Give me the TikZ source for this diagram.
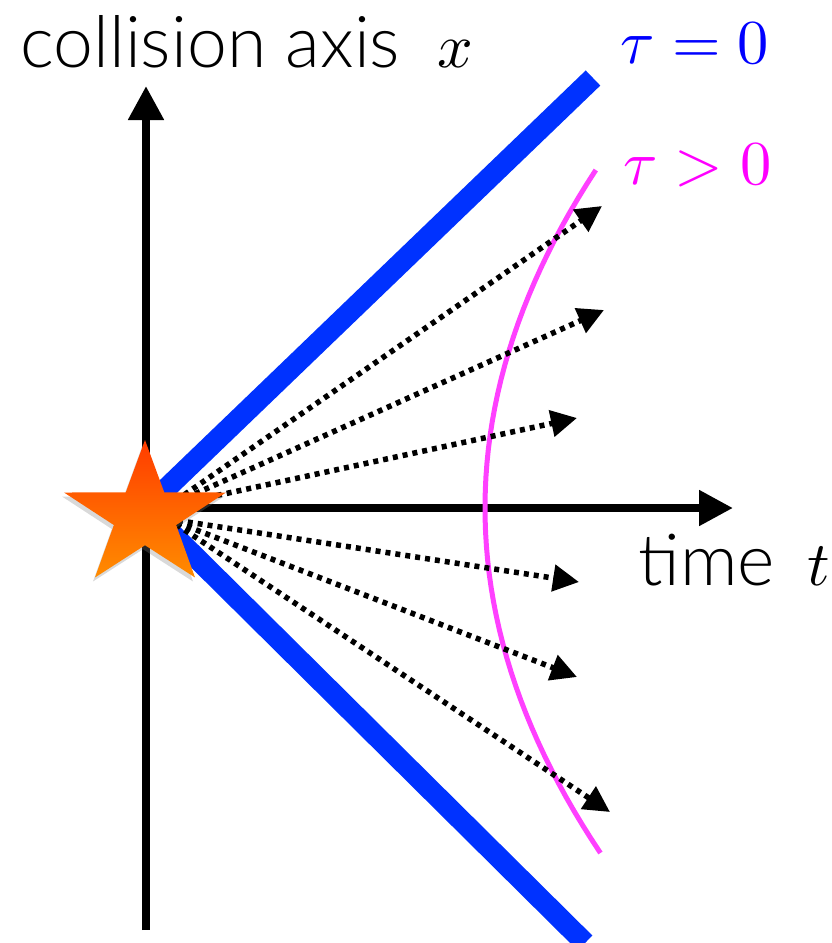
\documentclass[tikz,border=0pt]{standalone}
\usepackage{fontspec}
\setmainfont{Lato Light}
\usetikzlibrary{arrows.meta,shapes.geometric,shadows}
\definecolor{beamblue}{RGB}{0,50,255}
\definecolor{hypermag}{RGB}{255,64,255}
\definecolor{labelblue}{RGB}{0,0,255}
\definecolor{labelmag}{RGB}{255,0,255}
\tikzset{
axis/.style={line width=8pt,-{Triangle[length=34pt,width=34pt]}},
beam/.style={line width=21pt,beamblue},
flow/.style={line width=5.5pt,dash pattern=on 5pt off 5pt,-{Triangle[length=26pt,width=26pt]}},
hyper/.style={line width=5pt,hypermag},
textlabel/.style={inner sep=0pt,scale=7.15},
mathlabel/.style={inner sep=0pt,scale=6.25}
}
\begin{document}
\begin{tikzpicture}[x=1pt,y=-1pt]
\useasboundingbox (0,0) rectangle (832,943);
\clip (0,0) rectangle (832,943);
\coordinate (origin) at (146,508);
\coordinate (xfoot) at (146,930);
\coordinate (xtip) at (146,86);
\coordinate (ttip) at (733,508);
\coordinate (beamup) at (593,78);
\coordinate (beamdn) at (585,943);
\coordinate (srcup) at (168,506);
\coordinate (srcdn) at (168,519);
\coordinate (f1) at (602,206);
\coordinate (f2) at (604,310);
\coordinate (f3) at (577,418);
\coordinate (f4) at (579,582);
\coordinate (f5) at (577,677);
\coordinate (f6) at (610,812);
% axes
\draw[axis] (xfoot) -- (xtip);
\draw[axis] (origin) -- (ttip);
% light cone
\draw[beam] (origin) -- (beamup);
\draw[beam] (origin) -- (beamdn);
% proper time
\draw[hyper] plot[domain=-338:345,samples=50] ({485+9.7*(\x/100)^2},{508+\x});
% particles
\foreach \i in {f1,f2,f3} \draw[flow] (srcup) -- (\i);
\foreach \i in {f4,f5,f6} \draw[flow] (srcdn) -- (\i);
% collision
\node[star,star points=5,star point ratio=2.6,minimum size=152pt,inner sep=0pt,xscale=1.12,
top color={rgb,255:red,255;green,60;blue,0},bottom color={rgb,255:red,255;green,140;blue,0},
drop shadow={shadow xshift=-2pt,shadow yshift=-4pt,opacity=.3}] (burst) at (145,516) {};
% labels
\node[textlabel,anchor=base west] (xlabel) at (19,67) {collision axis};
\node[mathlabel,anchor=base west] (xvar) at (436,67) {$x$};
\node[textlabel,anchor=base west] (tlabel) at (637,585) {time};
\node[mathlabel,anchor=base west] (tvar) at (806,585) {$t$};
\node[mathlabel,anchor=base west,labelblue] (tauzero) at (619,63) {$\tau=0$};
\node[mathlabel,anchor=base west,labelmag] (taupos) at (622,184) {$\tau>0$};
\end{tikzpicture}
\end{document}
